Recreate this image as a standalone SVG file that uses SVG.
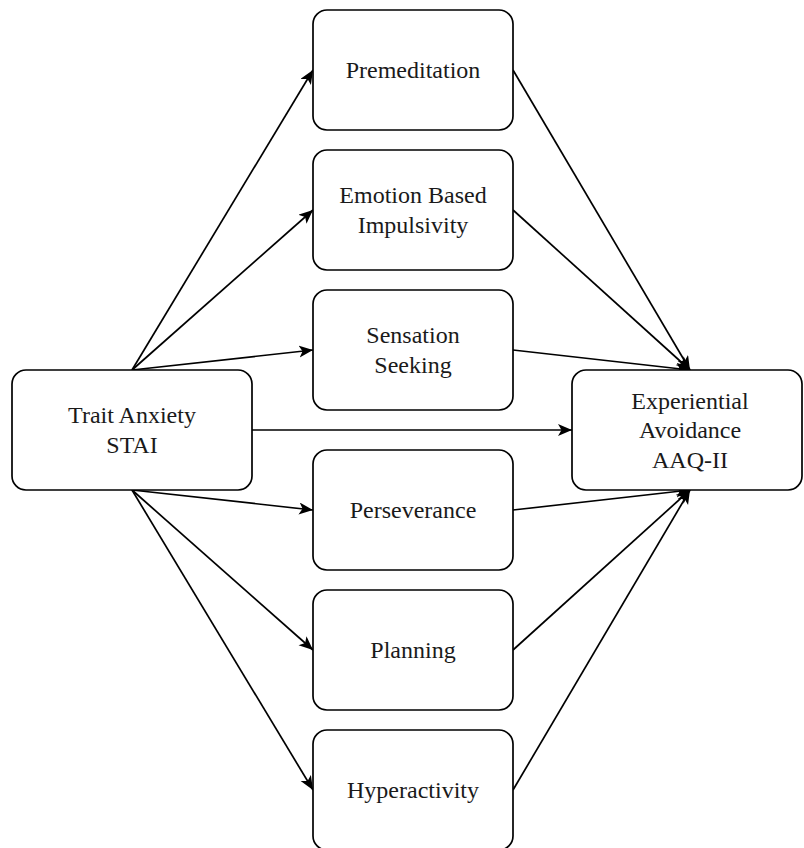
<svg xmlns="http://www.w3.org/2000/svg" width="804" height="848" viewBox="0 0 804 848">
  <style>
    .box { fill: #ffffff; stroke: #000000; stroke-width: 1.7; }
    .lbl { font-family: "Liberation Serif", "Times New Roman", serif; font-size: 24px; fill: #1a1a1a; text-anchor: middle; }
    .edge { fill: none; stroke: #000000; stroke-width: 1.7; marker-end: url(#arrow); }
  </style>
  <defs>
    <marker id="arrow" markerUnits="userSpaceOnUse" markerWidth="16" markerHeight="14" refX="14" refY="6" orient="auto">
      <path d="M0,0 L14,6 L0,12 L3.5,6 Z" fill="#000000"/>
    </marker>
  </defs>
  <rect width="804" height="848" fill="#ffffff"/>

  <g id="connectors">
    <!-- trait anxiety to the impulsivity facets -->
    <path class="edge" d="M132,370 L313,70"/>
    <path class="edge" d="M132,370 L313,210"/>
    <path class="edge" d="M132,370 L313,350"/>
    <path class="edge" d="M132,490 L313,510"/>
    <path class="edge" d="M132,490 L313,650"/>
    <path class="edge" d="M132,490 L313,790"/>
    <!-- direct path -->
    <path class="edge" d="M252,430 L572,430"/>
    <!-- facets to experiential avoidance -->
    <path class="edge" d="M513,70 L690,370"/>
    <path class="edge" d="M513,210 L690,370"/>
    <path class="edge" d="M513,350 L690,370"/>
    <path class="edge" d="M513,510 L690,490"/>
    <path class="edge" d="M513,650 L690,490"/>
    <path class="edge" d="M513,790 L690,490"/>
  </g>

  <g id="trait-anxiety">
    <rect class="box" x="12" y="370" width="240" height="120" rx="14" ry="14"/>
    <text class="lbl" x="132" y="423">Trait Anxiety</text>
    <text class="lbl" x="132" y="453">STAI</text>
  </g>

  <g id="premeditation">
    <rect class="box" x="313" y="10" width="200" height="120" rx="14" ry="14"/>
    <text class="lbl" x="413" y="78">Premeditation</text>
  </g>

  <g id="emotion-based-impulsivity">
    <rect class="box" x="313" y="150" width="200" height="120" rx="14" ry="14"/>
    <text class="lbl" x="413" y="203">Emotion Based</text>
    <text class="lbl" x="413" y="233">Impulsivity</text>
  </g>

  <g id="sensation-seeking">
    <rect class="box" x="313" y="290" width="200" height="120" rx="14" ry="14"/>
    <text class="lbl" x="413" y="343">Sensation</text>
    <text class="lbl" x="413" y="373">Seeking</text>
  </g>

  <g id="perseverance">
    <rect class="box" x="313" y="450" width="200" height="120" rx="14" ry="14"/>
    <text class="lbl" x="413" y="518">Perseverance</text>
  </g>

  <g id="planning">
    <rect class="box" x="313" y="590" width="200" height="120" rx="14" ry="14"/>
    <text class="lbl" x="413" y="658">Planning</text>
  </g>

  <g id="hyperactivity">
    <rect class="box" x="313" y="730" width="200" height="120" rx="14" ry="14"/>
    <text class="lbl" x="413" y="798">Hyperactivity</text>
  </g>

  <g id="experiential-avoidance">
    <rect class="box" x="572" y="370" width="230" height="120" rx="14" ry="14"/>
    <text class="lbl" x="690" y="409">Experiential</text>
    <text class="lbl" x="690" y="438">Avoidance</text>
    <text class="lbl" x="690" y="468">AAQ-II</text>
  </g>
</svg>
